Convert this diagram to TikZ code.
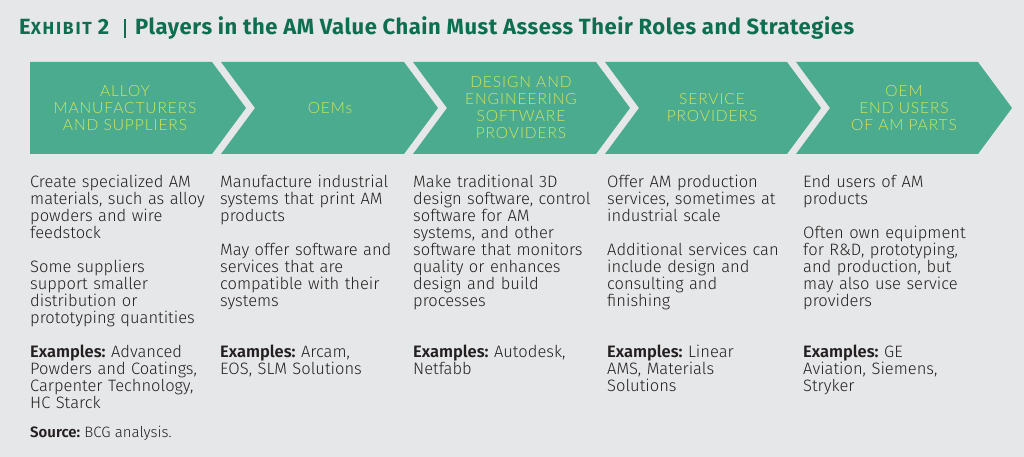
\documentclass[tikz,border=0pt]{standalone}
\usepackage{fontspec}
\setmainfont{Fira Sans Light}[BoldFont={Fira Sans SemiBold}]
\newfontfamily\titlefont{Fira Sans Bold}[LetterSpace=2.5]
\newfontfamily\smcapfont{Fira Sans Bold}[LetterSpace=10]
\newfontfamily\chevfont{Lato Light}[LetterSpace=6]
\definecolor{bg}{RGB}{230,231,232}
\definecolor{teal}{RGB}{75,171,143}
\definecolor{lime}{RGB}{208,230,92}
\definecolor{tgreen}{RGB}{14,110,80}
\definecolor{body}{RGB}{35,31,32}
\frenchspacing
\begin{document}
\begin{tikzpicture}[x=1pt,y=-1pt,
  chev/.style={fill=teal,draw=none},
  chevtext/.style={text=lime,align=center,inner sep=0pt,font=\chevfont\fontsize{15.5}{17}\selectfont},
  desc/.style={anchor=base west,inner sep=0pt,text width=190pt,align=left,text=body,font=\frenchspacing\fontsize{16.5}{17}\selectfont},
  src/.style={anchor=base west,inner sep=0pt,text=body,font=\frenchspacing\fontsize{15}{17}\selectfont}]
\fill[bg] (0,0) rectangle (1024,457);
\useasboundingbox (0,0) rectangle (1024,457);
% title
\node[anchor=base west,inner sep=0pt,text=tgreen] (ex) at (19,35)
  {\titlefont\fontsize{22}{24}\selectfont E{\smcapfont\fontsize{17.5}{20}\selectfont XHIBIT}\hspace{6pt}2};
\node[anchor=base west,inner sep=0pt,text=tgreen] (title) at (135,35)
  {\titlefont\fontsize{22}{24}\selectfont Players in the AM Value Chain Must Assess Their Roles and Strategies};
\coordinate (bartop) at (125,19);
\coordinate (barbot) at (125,38);
\draw[tgreen,line width=1.2pt] (bartop) -- (barbot);
% chevrons
\def\d{34}
\fill[chev] (30,62) -- (212,62) -- (246,108) -- (212,154) -- (30,154) -- cycle;
\foreach \L/\R in {221/404,413/596,605/787,796/978}{
  \fill[chev] (\L,62) -- (\R,62) -- (\R+\d,108) -- (\R,154) -- (\L,154) -- (\L+\d,108) -- cycle;
}
\node[chevtext] (c1) at (125,108) {ALLOY\\MANUFACTURERS\\AND SUPPLIERS};
\node[chevtext] (c2) at (330,108) {OEMs};
\node[chevtext] (c3) at (521,108) {DESIGN AND\\ENGINEERING\\SOFTWARE\\PROVIDERS};
\node[chevtext] (c4) at (712,108) {SERVICE\\PROVIDERS};
\node[chevtext] (c5) at (904,108) {OEM\\END USERS\\OF AM PARTS};
% column 1
\node[desc] (d1a) at (30,187) {Create specialized AM\\materials, such as alloy\\powders and wire\\feedstock};
\node[desc] (d1b) at (30,272) {Some suppliers\\support smaller\\distribution or\\prototyping quantities};
\node[desc] (e1) at (30,357) {\textbf{Examples:} Advanced\\Powders and Coatings,\\Carpenter Technology,\\HC Starck};
% column 2
\node[desc] (d2a) at (220,187) {Manufacture industrial\\systems that print AM\\products};
\node[desc] (d2b) at (220,255) {May offer software and\\services that are\\compatible with their\\systems};
\node[desc] (e2) at (220,357) {\textbf{Examples:} Arcam,\\EOS, SLM Solutions};
% column 3
\node[desc] (d3a) at (413,187) {Make traditional 3D\\design software, control\\software for AM\\systems, and other\\software that monitors\\quality or enhances\\design and build\\processes};
\node[desc] (e3) at (413,357) {\textbf{Examples:} Autodesk,\\Netfabb};
% column 4
\node[desc] (d4a) at (607,187) {Offer AM production\\services, sometimes at\\industrial scale};
\node[desc] (d4b) at (607,255) {Additional services can\\include design and\\consulting and\\finishing};
\node[desc] (e4) at (607,357) {\textbf{Examples:} Linear\\AMS, Materials\\Solutions};
% column 5
\node[desc] (d5a) at (803,187) {End users of AM\\products};
\node[desc] (d5b) at (803,238) {Often own equipment\\for R\&D, prototyping,\\and production, but\\may also use service\\providers};
\node[desc] (e5) at (803,357) {\textbf{Examples:} GE\\Aviation, Siemens,\\Stryker};
% source
\node[src] (source) at (30,437) {\textbf{Source:} BCG analysis.};
\end{tikzpicture}
\end{document}
